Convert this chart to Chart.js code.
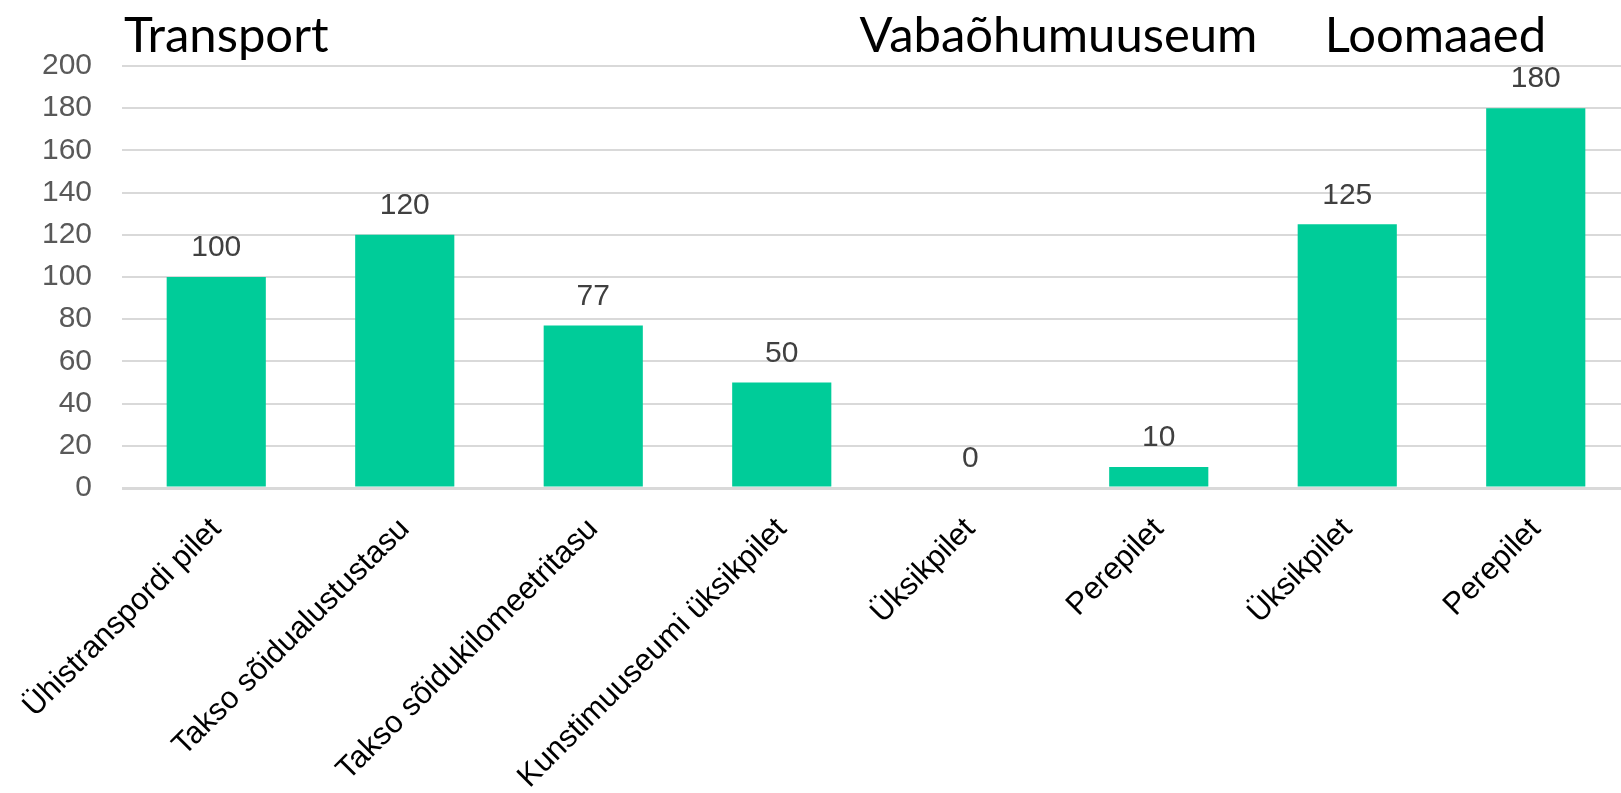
<!DOCTYPE html>
<html>
<head>
<meta charset="utf-8">
<title>Piletite hinnad</title>
<script src="https://cdn.jsdelivr.net/npm/chart.js@4"></script>
<style>
  html, body { margin: 0; padding: 0; background: #fff; overflow: hidden; }
  #wrap { width: 1630px; height: 793px; position: relative; }
</style>
</head>
<body>
<div id="wrap"><canvas id="graafik"></canvas></div>
<script>
// andmed
const kategooriad = ['Ühistranspordi pilet', 'Takso sõidualustustasu', 'Takso sõidukilomeetritasu', 'Kunstimuuseumi üksikpilet', 'Üksikpilet', 'Perepilet', 'Üksikpilet', 'Perepilet'];
const hinnad = [100, 120, 77, 50, 0, 10, 125, 180];
const yTicks = [0, 20, 40, 60, 80, 100, 120, 140, 160, 180, 200];

// rühmade pealkirjad (algus- ja lõpuindeks kategooriates)
const ruhmaNimed = ['Transport', 'Vabaõhumuuseum', 'Loomaaed'];
const ruhmaAlgus = [0, 4, 6];
const ruhmaLopp = [3, 5, 7];

const tekstiFont = '"Liberation Sans", Arial, sans-serif';

// väärtused tulpade kohale
const vaartusedPlugin = {
    id: 'vaartused',
    afterDatasetsDraw(chart) {
        const ctx = chart.ctx;
        const meta = chart.getDatasetMeta(0);
        ctx.save();
        ctx.font = '30px ' + tekstiFont;
        ctx.fillStyle = '#404040';
        ctx.textAlign = 'center';
        ctx.textBaseline = 'middle';
        meta.data.forEach((bar, i) => {
            ctx.fillText(String(hinnad[i]), bar.x, bar.y - 29);
        });
        ctx.restore();
    }
};

// rühmade pealkirjad graafiku kohal
const ruhmadPlugin = {
    id: 'ruhmad',
    afterDraw(chart) {
        const ctx = chart.ctx;
        const x = chart.scales.x;
        ctx.save();
        ctx.font = '49px Lato, "Open Sans", sans-serif';
        ctx.fillStyle = '#000';
        ctx.textBaseline = 'alphabetic';
        ruhmaNimed.forEach((nimi, i) => {
            if (i === 0) {
                ctx.textAlign = 'left';
                ctx.fillText(nimi, chart.chartArea.left + 2, 52);
            } else {
                const kesk = (x.getPixelForValue(ruhmaAlgus[i]) + x.getPixelForValue(ruhmaLopp[i])) / 2;
                ctx.textAlign = 'center';
                ctx.fillText(nimi, kesk - 6, 52);
            }
        });
        ctx.restore();
    }
};

const ctx = document.getElementById('graafik').getContext('2d');
new Chart(ctx, {
    type: 'bar',
    data: {
        labels: kategooriad,
        datasets: [{
            data: hinnad,
            backgroundColor: '#00CC99',
            categoryPercentage: 1,
            barPercentage: 0.526
        }]
    },
    options: {
        responsive: true,
        maintainAspectRatio: false,
        animation: false,
        layout: { padding: { top: 66, left: 0, right: 0, bottom: 0 } },
        plugins: {
            legend: { display: false },
            tooltip: { enabled: false }
        },
        scales: {
            x: {
                grid: { display: false },
                border: { display: false },
                ticks: {
                    autoSkip: false,
                    maxRotation: 45,
                    minRotation: 45,
                    padding: 15,
                    color: '#000',
                    font: { family: tekstiFont, size: 31 }
                },
                afterFit: s => { s.height = 305; }
            },
            y: {
                min: 0,
                max: 200,
                afterBuildTicks: s => { s.ticks = yTicks.map(v => ({ value: v })); },
                grid: {
                    color: '#d9d9d9',
                    lineWidth: c => (c.tick && c.tick.value === 0 ? 3 : 2),
                    drawTicks: false
                },
                border: { display: false },
                ticks: {
                    padding: 30,
                    color: '#595959',
                    font: { family: tekstiFont, size: 30 }
                },
                afterFit: s => { s.width = 122; }
            }
        }
    },
    plugins: [vaartusedPlugin, ruhmadPlugin]
});
</script>
</body>
</html>
